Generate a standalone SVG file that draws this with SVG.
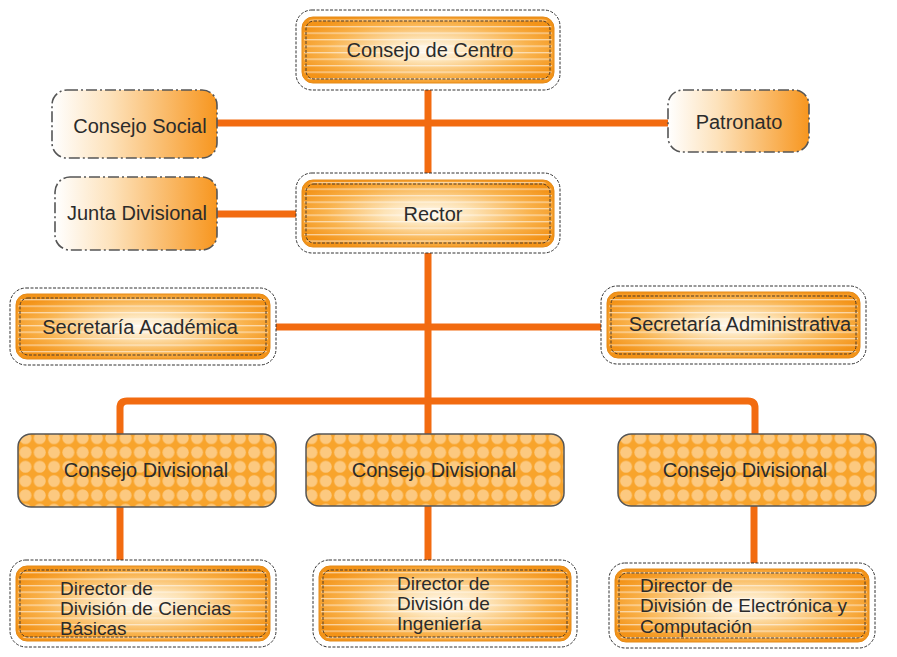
<svg xmlns="http://www.w3.org/2000/svg" width="897" height="657" viewBox="0 0 897 657">
<defs>
<radialGradient id="glow" cx="50%" cy="50%" r="58%">
<stop offset="0" stop-color="#fffaf2"/>
<stop offset="0.3" stop-color="#fde3b6"/>
<stop offset="0.7" stop-color="#f9b24c"/>
<stop offset="1" stop-color="#f39318"/>
</radialGradient>
<linearGradient id="fade" x1="0" y1="0" x2="1" y2="0">
<stop offset="0" stop-color="#ffffff"/>
<stop offset="0.35" stop-color="#fde2bb"/>
<stop offset="1" stop-color="#f7961f"/>
</linearGradient>
<pattern id="stripes" width="12" height="6.5" patternUnits="userSpaceOnUse">
<rect x="0" y="0" width="12" height="1.3" fill="#ffffff" fill-opacity="0.55"/>
</pattern>
<pattern id="dots" width="14.3" height="14.3" patternUnits="userSpaceOnUse" x="4" y="2">
<rect width="14.3" height="14.3" fill="#f8a42c"/>
<circle cx="7.15" cy="7.15" r="6" fill="#fcc980"/>
</pattern>
</defs>
<style>
text{font-family:"Liberation Sans",Arial,sans-serif;font-size:20px;fill:#2b2b2b}
text.d{font-size:19px}
.c{text-anchor:middle}
.outer{fill:#ffffff;stroke:#333;stroke-width:1;stroke-dasharray:3 1.5}
.inner{fill:url(#glow);stroke:#e48a18;stroke-width:1}
.str{fill:url(#stripes);stroke:none}
.dash{fill:none;stroke:#4a3a2a;stroke-width:1;stroke-dasharray:3 1.5}
.dd{fill:url(#fade);stroke:#555;stroke-width:1.6;stroke-dasharray:11 3 2 3}
.dots{fill:url(#dots);stroke:#555;stroke-width:1.5}
.ln{fill:none;stroke:#f26b10;stroke-width:7}
</style>

<g id="connectors">
<path class="ln" d="M428,83 V180"/>
<path class="ln" d="M217,123 H670"/>
<path class="ln" d="M217,214 H302"/>
<path class="ln" d="M428,247 V435"/>
<path class="ln" d="M276,327 H605"/>
<path class="ln" d="M120,435 V408 Q120,401 127,401 H748 Q755,401 755,408 V435"/>
<path class="ln" d="M120,507 V566"/>
<path class="ln" d="M428,506 V566"/>
<path class="ln" d="M754,506 V569"/>
</g>

<g id="consejo-centro">
<rect class="outer" x="296" y="10" width="264" height="80" rx="16"/>
<rect class="inner" x="302" y="17" width="252" height="66" rx="11"/>
<rect class="str" x="304" y="19" width="248" height="62" rx="10"/>
<rect class="dash" x="306" y="21" width="244" height="58" rx="8"/>
<text class="c" x="430" y="57">Consejo de Centro</text>
</g>

<g id="consejo-social">
<rect class="dd" x="52" y="90" width="165" height="68" rx="15"/>
<text class="c" x="140" y="133">Consejo Social</text>
</g>

<g id="patronato">
<rect class="dd" x="668" y="90" width="141" height="62" rx="15"/>
<text class="c" x="739" y="129">Patronato</text>
</g>

<g id="junta-divisional">
<rect class="dd" x="55" y="177" width="162" height="73" rx="15"/>
<text class="c" x="137" y="220">Junta Divisional</text>
</g>

<g id="rector">
<rect class="outer" x="296" y="173" width="264" height="80" rx="16"/>
<rect class="inner" x="302" y="180" width="252" height="67" rx="11"/>
<rect class="str" x="304" y="182" width="248" height="63" rx="10"/>
<rect class="dash" x="306" y="184" width="244" height="59" rx="8"/>
<text class="c" x="433" y="221">Rector</text>
</g>

<g id="secretaria-academica">
<rect class="outer" x="10" y="288" width="266" height="77" rx="16"/>
<rect class="inner" x="16" y="294" width="254" height="65" rx="11"/>
<rect class="str" x="18" y="296" width="250" height="61" rx="10"/>
<rect class="dash" x="20" y="298" width="246" height="57" rx="8"/>
<text class="c" x="140" y="334">Secretaría Académica</text>
</g>

<g id="secretaria-administrativa">
<rect class="outer" x="601" y="286" width="265" height="78" rx="16"/>
<rect class="inner" x="607" y="292" width="253" height="66" rx="11"/>
<rect class="str" x="609" y="294" width="249" height="62" rx="10"/>
<rect class="dash" x="611" y="296" width="245" height="58" rx="8"/>
<text class="c" x="740" y="331">Secretaría Administrativa</text>
</g>

<g id="consejo-divisional-1">
<rect class="dots" x="18" y="434" width="258" height="73" rx="13"/>
<text class="c" x="146" y="477">Consejo Divisional</text>
</g>

<g id="consejo-divisional-2">
<rect class="dots" x="306" y="434" width="258" height="72" rx="13"/>
<text class="c" x="434" y="477">Consejo Divisional</text>
</g>

<g id="consejo-divisional-3">
<rect class="dots" x="618" y="434" width="258" height="72" rx="13"/>
<text class="c" x="745" y="477">Consejo Divisional</text>
</g>

<g id="director-ciencias">
<rect class="outer" x="10" y="560" width="266" height="87" rx="16"/>
<rect class="inner" x="16" y="566" width="254" height="75" rx="11"/>
<rect class="str" x="18" y="568" width="250" height="71" rx="10"/>
<rect class="dash" x="20" y="570" width="246" height="67" rx="8"/>
<text class="d" x="60" y="595">Director de</text>
<text class="d" x="60" y="615">División de Ciencias</text>
<text class="d" x="60" y="635">Básicas</text>
</g>

<g id="director-ingenieria">
<rect class="outer" x="313" y="560" width="264" height="87" rx="16"/>
<rect class="inner" x="319" y="566" width="252" height="75" rx="11"/>
<rect class="str" x="321" y="568" width="248" height="71" rx="10"/>
<rect class="dash" x="323" y="570" width="244" height="67" rx="8"/>
<text class="d" x="397" y="590">Director de</text>
<text class="d" x="397" y="610">División de</text>
<text class="d" x="397" y="630">Ingeniería</text>
</g>

<g id="director-electronica">
<rect class="outer" x="609" y="563" width="266" height="85" rx="16"/>
<rect class="inner" x="615" y="569" width="254" height="73" rx="11"/>
<rect class="str" x="617" y="571" width="250" height="69" rx="10"/>
<rect class="dash" x="619" y="573" width="246" height="65" rx="8"/>
<text class="d" x="640" y="592">Director de</text>
<text class="d" x="640" y="612">División de Electrónica y</text>
<text class="d" x="640" y="633">Computación</text>
</g>
</svg>
